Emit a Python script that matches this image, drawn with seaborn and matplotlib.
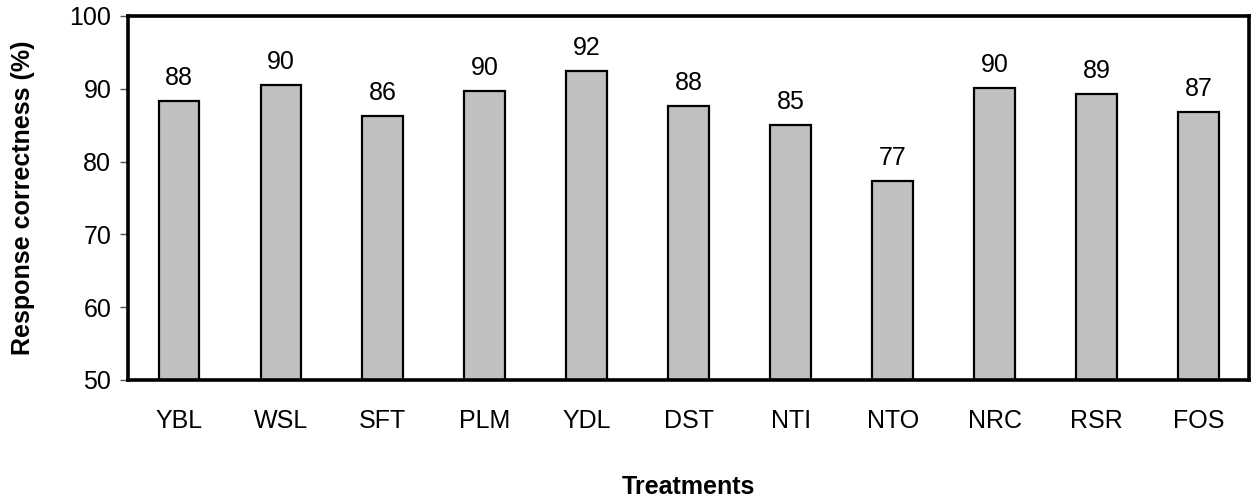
import matplotlib
matplotlib.use("Agg")
import matplotlib.pyplot as plt
import seaborn as sns
import pandas as pd

treatments = ["YBL", "WSL", "SFT", "PLM", "YDL", "DST", "NTI", "NTO", "NRC", "RSR", "FOS"]
correctness = [88.3, 90.45, 86.3, 89.7, 92.4, 87.6, 85.0, 77.3, 90.1, 89.3, 86.8]
bar_labels = ["88", "90", "86", "90", "92", "88", "85", "77", "90", "89", "87"]
y_ticks = [50, 60, 70, 80, 90, 100]

sns.set_theme(style="white")
plt.rcParams["font.family"] = ["Liberation Sans", "DejaVu Sans"]
plt.rcParams["text.color"] = "black"
plt.rcParams["axes.labelcolor"] = "black"
plt.rcParams["xtick.color"] = "black"
plt.rcParams["ytick.color"] = "black"

df = pd.DataFrame({"Treatments": treatments, "Correctness": correctness})

fig = plt.figure(figsize=(12.52, 4.99), dpi=100)
ax = fig.add_axes([0.1022, 0.2385, 0.8958, 0.7295])

sns.barplot(data=df, x="Treatments", y="Correctness", color="#c0c0c0",
            saturation=1, width=0.4, edgecolor="black", linewidth=1.6, ax=ax)

ax.set_ylim(50, 100)
ax.set_xlim(-0.5, len(treatments) - 0.5)
ax.set_yticks(y_ticks)
ax.set_yticklabels([str(t) for t in y_ticks], fontsize=18)
ax.tick_params(axis="y", which="major", left=True, length=6, width=1, color="#555555", pad=6)
ax.tick_params(axis="x", which="major", bottom=False, length=0, pad=21, labelsize=18)

for s in ax.spines.values():
    s.set_visible(True)
    s.set_color("black")
    s.set_linewidth(2.6)

ax.bar_label(ax.containers[0], labels=bar_labels, padding=8, fontsize=18, color="black")

ax.set_xlabel("Treatments", fontsize=18, fontweight="bold", labelpad=30)
ax.set_ylabel("Response correctness (%)", fontsize=18, fontweight="bold", labelpad=25)

fig.savefig("out.png", dpi=100)
